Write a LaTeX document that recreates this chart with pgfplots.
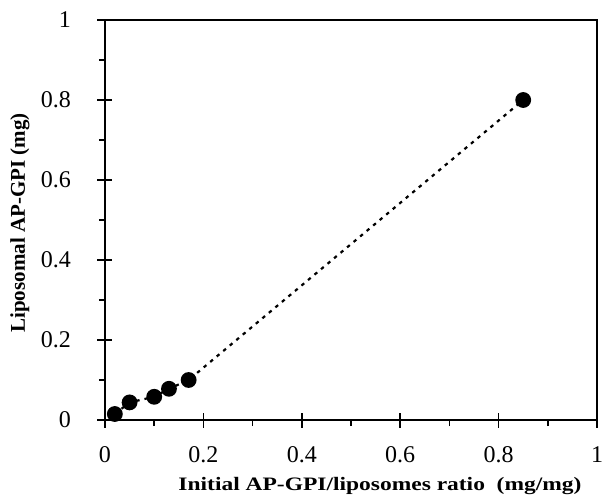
\documentclass[border=0pt]{standalone}
\usepackage{pgfplots}
\pgfplotsset{compat=1.18}
\usepackage{fontspec}
\setmainfont{Liberation Serif}
\begin{document}
\begin{tikzpicture}
\begin{axis}[
  scale only axis,
  width=492pt, height=400pt,
  xmin=0, xmax=1, ymin=0, ymax=1,
  axis line style={line width=1.6pt},
  xtick={0,0.2,0.4,0.6,0.8,1},
  ytick={0,0.2,0.4,0.6,0.8,1},
  xtick pos=bottom, ytick pos=left,
  tick align=center,
  major tick length=15pt,
  tick style={line width=1.6pt, black},
  extra x ticks={0.1,0.3,0.5,0.7,0.9},
  extra y ticks={0.1,0.3,0.5,0.7,0.9},
  extra x tick labels={},
  extra y tick labels={},
  extra tick style={tick align=outside, major tick length=6pt},
  /pgf/number format/assume math mode=true,
  tick label style={font=\fontsize{24}{26}\selectfont},
  xticklabel style={yshift=-16pt},
  yticklabel style={xshift=-23pt},
  xlabel={\resizebox{403pt}{\height}{\textbf{Initial AP-GPI/liposomes ratio\ \ (mg/mg)}}},
  ylabel={\textbf{Liposomal AP-GPI (mg)}},
  xlabel style={font=\fontsize{19}{21}\selectfont, at={(axis description cs:0.5,0)}, anchor=center, yshift=-66pt, xshift=29pt},
  ylabel style={font=\fontsize{21}{23}\selectfont, at={(axis description cs:-0.1728,0.4925)}, anchor=center},
]
\addplot[black, line width=2.2pt, dash pattern=on 3.5pt off 5pt, mark=*, mark size=6.8pt, mark options={solid}]
coordinates {(0.02,0.015)(0.05,0.044)(0.1,0.058)(0.13,0.078)(0.17,0.1)(0.85,0.8)};
\end{axis}
\pgfresetboundingbox
\useasboundingbox (-105pt,-83pt) rectangle (497pt,420pt);
\end{tikzpicture}
\end{document}
